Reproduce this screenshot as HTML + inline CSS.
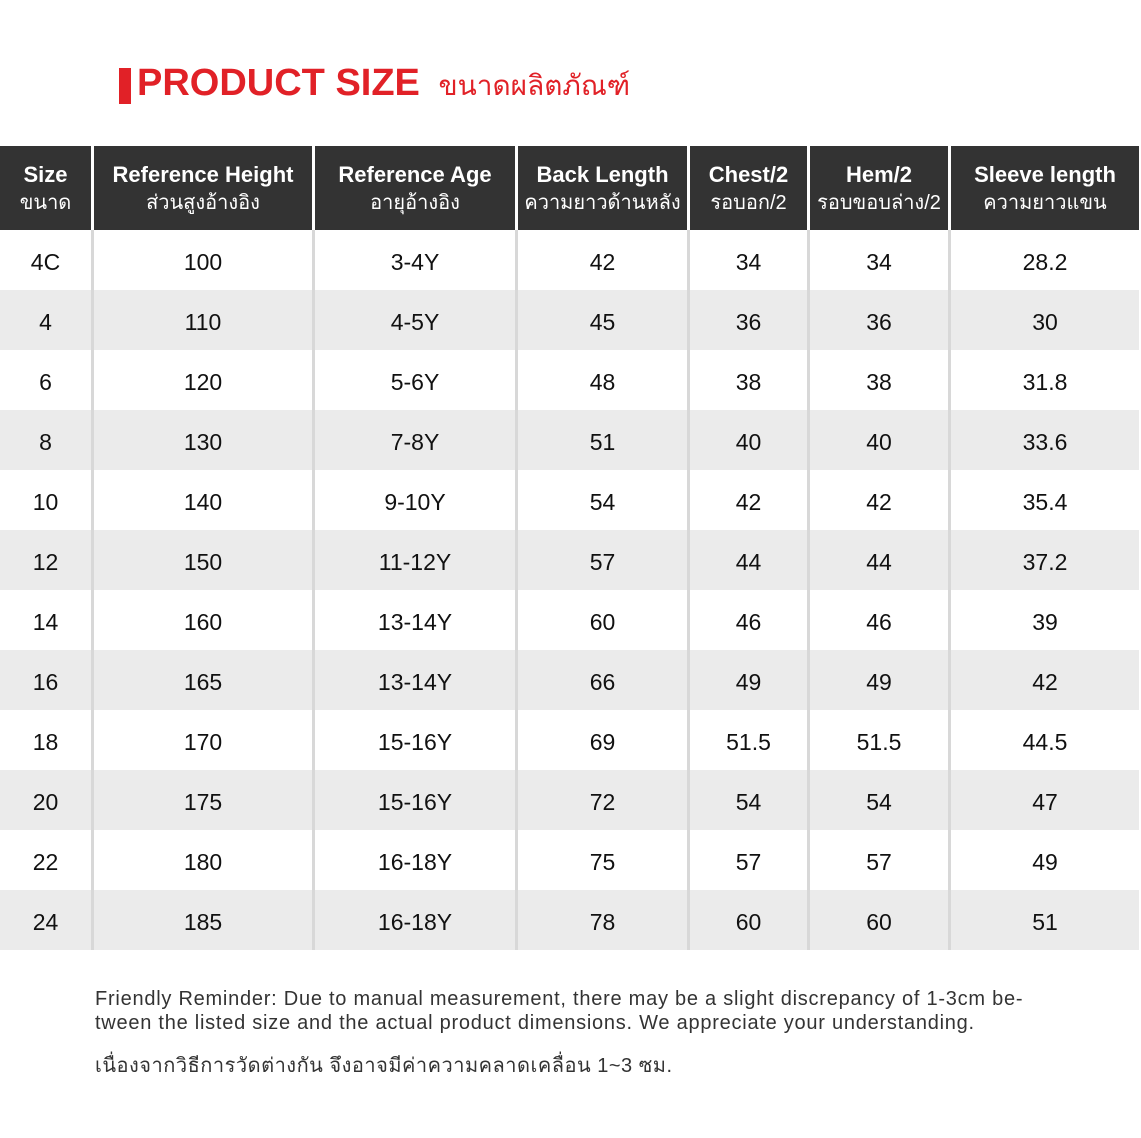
<!DOCTYPE html><html><head><meta charset="utf-8"><style>
body{margin:0;width:1141px;height:1138px;background:#fff;position:relative;overflow:hidden;font-family:"Liberation Sans","DejaVu Sans",sans-serif}
.a{position:absolute}
.row{position:absolute;left:0;width:1139px;height:60px}
.c{position:absolute;top:0;height:100%;display:flex;align-items:center;justify-content:center;text-align:center;font-size:23px;color:#111;box-sizing:border-box;padding-top:5px}
.h .c{color:#fff;flex-direction:column;line-height:28px;padding-top:2px}
.h b{font-size:22px}
.h span{font-size:20px}
.sep{position:absolute;top:146px;height:805px;width:3px;background:#d8d8d8}
</style></head><body>
<div class="a" style="left:119px;top:68px;width:12px;height:36px;background:#e12127"></div>
<div class="a" style="left:137px;top:62px;font-size:38px;font-weight:bold;color:#e12127;white-space:nowrap">PRODUCT SIZE <span style="font-size:28px;font-weight:normal;margin-left:8px">ขนาดผลิตภัณฑ์</span></div>
<div id="t"></div>
<div class="a" style="left:95px;top:987px;width:1000px;font-size:20px;letter-spacing:0.75px;line-height:24px;color:#333;white-space:nowrap">Friendly Reminder: Due to manual measurement, there may be a slight discrepancy of 1-3cm be-<br>tween the listed size and the actual product dimensions. We appreciate your understanding.</div>
<div class="a" style="left:95px;top:1049px;font-size:20px;letter-spacing:0.5px;color:#333;white-space:nowrap">เนื่องจากวิธีการวัดต่างกัน จึงอาจมีค่าความคลาดเคลื่อน 1~3 ซม.</div>
<script>
var cols=[[0,91],[94,312],[315,515],[518,687],[690,807],[810,948],[951,1139]];
var hd=[["Size","ขนาด"],["Reference Height","ส่วนสูงอ้างอิง"],["Reference Age","อายุอ้างอิง"],["Back Length","ความยาวด้านหลัง"],["Chest/2","รอบอก/2"],["Hem/2","รอบขอบล่าง/2"],["Sleeve length","ความยาวแขน"]];
var d=[["4C",100,"3-4Y",42,34,34,28.2],["4",110,"4-5Y",45,36,36,30],["6",120,"5-6Y",48,38,38,31.8],["8",130,"7-8Y",51,40,40,33.6],["10",140,"9-10Y",54,42,42,35.4],["12",150,"11-12Y",57,44,44,37.2],["14",160,"13-14Y",60,46,46,39],["16",165,"13-14Y",66,49,49,42],["18",170,"15-16Y",69,51.5,51.5,44.5],["20",175,"15-16Y",72,54,54,47],["22",180,"16-18Y",75,57,57,49],["24",185,"16-18Y",78,60,60,51]];
var h='<div class="row h" style="top:146px;height:84px;background:#fff">';
cols.forEach(function(c,i){h+='<div class="c" style="left:'+c[0]+'px;width:'+(c[1]-c[0])+'px;background:#333"><b>'+hd[i][0]+'</b><span>'+hd[i][1]+'</span></div>'});
h+='</div>';
d.forEach(function(r,j){h+='<div class="row" style="top:'+(230+60*j)+'px;background:'+(j%2?'#ebebeb':'#fff')+'">';
cols.forEach(function(c,i){h+='<div class="c" style="left:'+c[0]+'px;width:'+(c[1]-c[0])+'px">'+r[i]+'</div>'});h+='</div>'});
[91,312,515,687,807,948].forEach(function(x){h+='<div class="sep" style="left:'+x+'px;top:230px;height:720px"></div>'});
document.getElementById('t').innerHTML=h;
</script>
</body></html>
